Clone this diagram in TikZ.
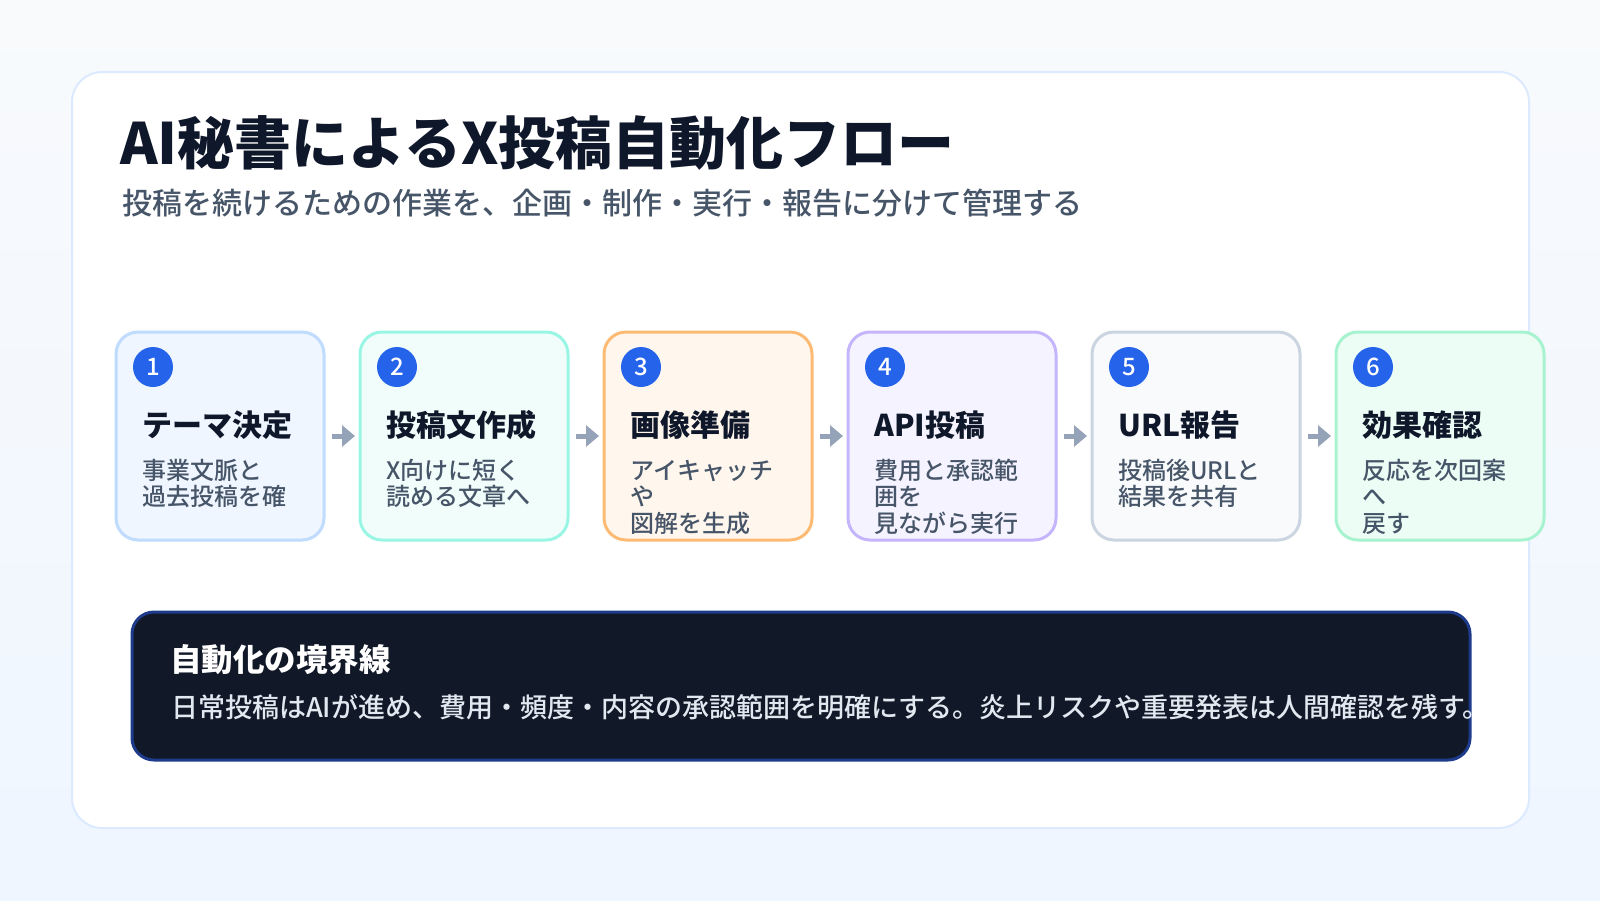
\documentclass[tikz,border=0pt]{standalone}
\usepackage{fontspec}
\setmainfont{Noto Sans CJK JP}
\newfontfamily\jpmed{Noto Sans CJK JP Medium}
\usetikzlibrary{arrows.meta,calc}
\definecolor{bgtop}{HTML}{F8FAFC}
\definecolor{bgbot}{HTML}{EFF6FF}
\definecolor{cardline}{HTML}{DBEAFE}
\definecolor{ink}{HTML}{0F172A}
\definecolor{sub}{HTML}{475569}
\definecolor{numblue}{HTML}{2563EB}
\definecolor{arrgray}{HTML}{94A3B8}
\definecolor{fa}{HTML}{EFF6FF}\definecolor{da}{HTML}{BFDBFE}
\definecolor{fb}{HTML}{F0FDFA}\definecolor{db}{HTML}{99F6E4}
\definecolor{fc}{HTML}{FFF7ED}\definecolor{dc}{HTML}{FDBA74}
\definecolor{fd}{HTML}{F5F3FF}\definecolor{dd}{HTML}{C4B5FD}
\definecolor{fe}{HTML}{F8FAFC}\definecolor{de}{HTML}{CBD5E1}
\definecolor{ff}{HTML}{ECFDF5}\definecolor{df}{HTML}{A7F3D0}
\definecolor{darkfill}{HTML}{111827}
\definecolor{darkline}{HTML}{1E3A8A}
\definecolor{lighttext}{HTML}{E2E8F0}
\begin{document}
\begin{tikzpicture}[x=1pt,y=-1pt,
  card/.style={draw=cardline, line width=2pt, fill=white, rounded corners=30pt, inner sep=0pt, outer sep=0pt},
  box/.style={draw, line width=3pt, rounded corners=22pt, minimum width=208pt, minimum height=208pt, inner sep=0pt, outer sep=0pt},
  numc/.style={circle, fill=numblue, minimum size=40pt, inner sep=0pt, text=white, font=\jpmed\fontsize{24}{24}\selectfont},
  ttl/.style={anchor=base west, inner sep=0pt, text=ink, font=\fontsize{30}{30}\selectfont\bfseries},
  dsc/.style={anchor=base west, inner sep=0pt, text=sub, font=\jpmed\fontsize{24}{24}\selectfont},
  arr/.style={draw=arrgray, line width=5pt, -{Triangle[length=13pt,width=21pt]}, shorten <=8pt, shorten >=5pt},
  note/.style={draw=darkline, fill=darkfill, line width=3pt, rounded corners=22pt, minimum width=1338pt, minimum height=148pt, inner sep=0pt, outer sep=0pt},
]
\useasboundingbox (0,0) rectangle (1600,900);
\shade[top color=bgtop, bottom color=bgbot] (0,0) rectangle (1600,900);
\node[card, minimum width=1457pt, minimum height=756pt] (card) at (800.5,450) {};

\node[anchor=base west, inner sep=0pt, text=ink, font=\fontsize{57}{60}\selectfont\bfseries] (title) at (120,164) {AI秘書によるX投稿自動化フロー};
\node[anchor=base west, inner sep=0pt, text=sub, font=\jpmed\fontsize{30}{32}\selectfont] (subtitle) at (122,214) {投稿を続けるための作業を、企画・制作・実行・報告に分けて管理する};

\foreach \i/\f/\d in {1/fa/da, 2/fb/db, 3/fc/dc, 4/fd/dd, 5/fe/de, 6/ff/df} {
  \node[box, fill=\f, draw=\d] (b\i) at ({220+244*(\i-1)},436) {};
  \node[numc] (n\i) at ($(b\i.north west)+(37,35)$) {\i};
}

\node[ttl] (t1) at ($(b1.north west)+(26,104)$) {テーマ決定};
\node[dsc] (d1a) at ($(b1.north west)+(26,147)$) {事業文脈と};
\node[dsc] (d1b) at ($(b1.north west)+(26,173)$) {過去投稿を確};

\node[ttl] (t2) at ($(b2.north west)+(26,104)$) {投稿文作成};
\node[dsc] (d2a) at ($(b2.north west)+(26,147)$) {X向けに短く};
\node[dsc] (d2b) at ($(b2.north west)+(26,173)$) {読める文章へ};

\node[ttl] (t3) at ($(b3.north west)+(26,104)$) {画像準備};
\node[dsc] (d3a) at ($(b3.north west)+(26,147)$) {アイキャッチ};
\node[dsc] (d3b) at ($(b3.north west)+(26,173)$) {や};
\node[dsc] (d3c) at ($(b3.north west)+(26,200)$) {図解を生成};

\node[ttl] (t4) at ($(b4.north west)+(26,104)$) {API投稿};
\node[dsc] (d4a) at ($(b4.north west)+(26,147)$) {費用と承認範};
\node[dsc] (d4b) at ($(b4.north west)+(26,173)$) {囲を};
\node[dsc] (d4c) at ($(b4.north west)+(26,200)$) {見ながら実行};

\node[ttl] (t5) at ($(b5.north west)+(26,104)$) {URL報告};
\node[dsc] (d5a) at ($(b5.north west)+(26,147)$) {投稿後URLと};
\node[dsc] (d5b) at ($(b5.north west)+(26,173)$) {結果を共有};

\node[ttl] (t6) at ($(b6.north west)+(26,104)$) {効果確認};
\node[dsc] (d6a) at ($(b6.north west)+(26,147)$) {反応を次回案};
\node[dsc] (d6b) at ($(b6.north west)+(26,173)$) {へ};
\node[dsc] (d6c) at ($(b6.north west)+(26,200)$) {戻す};

\foreach \a/\b in {1/2, 2/3, 3/4, 4/5, 5/6} {
  \draw[arr] (b\a.east) -- (b\b.west);
}

\node[note] (note) at (801,686) {};
\node[anchor=base west, inner sep=0pt, text=white, font=\fontsize{31.5}{32}\selectfont\bfseries] (notetitle) at (170,671) {自動化の境界線};
\node[anchor=base west, inner sep=0pt, text=lighttext, font=\jpmed\fontsize{27}{28}\selectfont] (notebody) at (171,717) {日常投稿はAIが進め、費用・頻度・内容の承認範囲を明確にする。炎上リスクや重要発表は人間確認を残す。};
\end{tikzpicture}
\end{document}
